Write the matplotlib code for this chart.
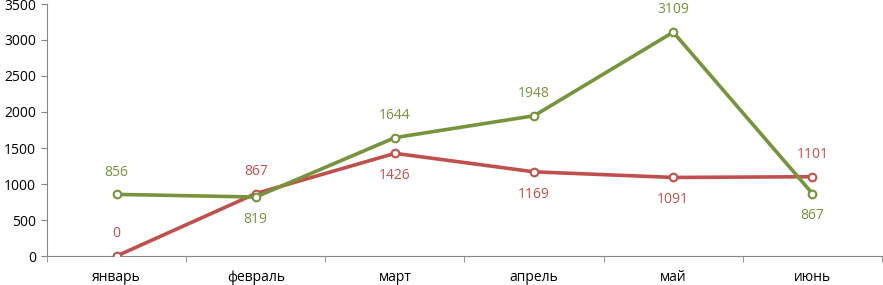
import matplotlib.pyplot as plt
import numpy as np

months = ['январь', 'февраль', 'март', 'апрель', 'май', 'июнь']
green_vals = [856, 819, 1644, 1948, 3109, 867]
red_vals = [0, 867, 1426, 1169, 1091, 1101]
# label placement: +1 above the point, -1 below
green_pos = [1, -1, 1, 1, 1, -1]
red_pos = [1, 1, -1, -1, -1, 1]

green = '#77933C'
red = '#C0504D'
axis_col = '#868686'

plt.rcParams['font.family'] = ['Open Sans', 'DejaVu Sans']

fig = plt.figure(figsize=(8.83, 2.85), dpi=100)
ax = fig.add_axes([47 / 883, 29 / 285, 835 / 883, 252 / 285])

x = np.arange(len(months))
for vals, pos, col in [(red_vals, red_pos, red), (green_vals, green_pos, green)]:
    ax.plot(x, vals, color=col, lw=2.6, marker='o', ms=5.5,
            mfc='white', mec=col, mew=1.5, zorder=3)
    for xi, v, p in zip(x, vals, pos):
        ax.annotate(str(v), (xi, v), xytext=(0, 16 * p), textcoords='offset points',
                    ha='center', va='center', color=col, fontsize=10)

ax.set_xlim(-0.5, len(months) - 0.5)
ax.set_ylim(0, 3500)
ax.set_yticks(np.arange(0, 3501, 500))
ax.set_xticks(x)
ax.set_xticklabels(months)
ax.set_xticks(np.arange(-0.5, len(months), 1), minor=True)
ax.tick_params(axis='x', which='major', length=0, pad=10, labelsize=10)
ax.tick_params(axis='x', which='minor', length=4, color=axis_col)
ax.tick_params(axis='y', length=4, color=axis_col, labelsize=10, pad=4)

for s in ['top', 'right']:
    ax.spines[s].set_visible(False)
for s in ['left', 'bottom']:
    ax.spines[s].set_color(axis_col)
ax.patch.set_alpha(0)

fig.savefig('out.png', dpi=100)
